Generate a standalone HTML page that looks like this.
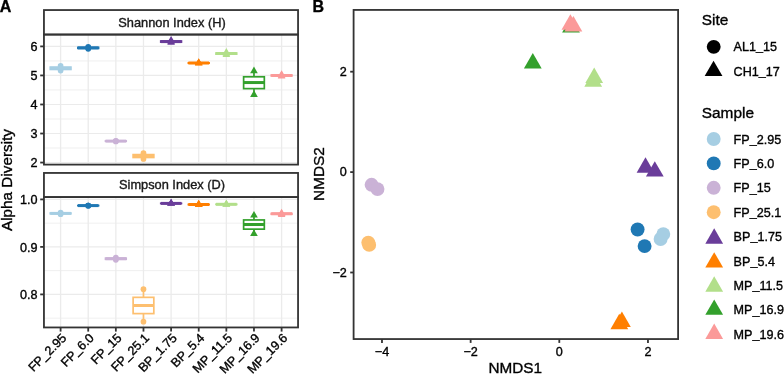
<!DOCTYPE html>
<html><head><meta charset="utf-8"><style>
html,body{margin:0;padding:0;background:#fff;}
body{width:784px;height:374px;overflow:hidden;}
svg{display:block;font-family:"Liberation Sans", sans-serif;will-change:transform;}
text{stroke:#000;stroke-width:0.35px;paint-order:stroke;}
</style></head><body>
<svg width="784" height="374" viewBox="0 0 784 374">
<rect width="784" height="374" fill="#fff"/>
<line x1="43.95" x2="298.05" y1="60.92" y2="60.92" stroke="#ebebeb" stroke-width="0.8"/>
<line x1="43.95" x2="298.05" y1="89.96" y2="89.96" stroke="#ebebeb" stroke-width="0.8"/>
<line x1="43.95" x2="298.05" y1="119" y2="119" stroke="#ebebeb" stroke-width="0.8"/>
<line x1="43.95" x2="298.05" y1="148.04" y2="148.04" stroke="#ebebeb" stroke-width="0.8"/>
<line x1="43.95" x2="298.05" y1="46.4" y2="46.4" stroke="#ebebeb" stroke-width="1.2"/>
<line x1="43.95" x2="298.05" y1="75.44" y2="75.44" stroke="#ebebeb" stroke-width="1.2"/>
<line x1="43.95" x2="298.05" y1="104.48" y2="104.48" stroke="#ebebeb" stroke-width="1.2"/>
<line x1="43.95" x2="298.05" y1="133.52" y2="133.52" stroke="#ebebeb" stroke-width="1.2"/>
<line x1="43.95" x2="298.05" y1="162.56" y2="162.56" stroke="#ebebeb" stroke-width="1.2"/>
<line x1="60.6" x2="60.6" y1="34.55" y2="164.6" stroke="#ebebeb" stroke-width="1.3"/>
<line x1="88.22" x2="88.22" y1="34.55" y2="164.6" stroke="#ebebeb" stroke-width="1.3"/>
<line x1="115.85" x2="115.85" y1="34.55" y2="164.6" stroke="#ebebeb" stroke-width="1.3"/>
<line x1="143.47" x2="143.47" y1="34.55" y2="164.6" stroke="#ebebeb" stroke-width="1.3"/>
<line x1="171.1" x2="171.1" y1="34.55" y2="164.6" stroke="#ebebeb" stroke-width="1.3"/>
<line x1="198.72" x2="198.72" y1="34.55" y2="164.6" stroke="#ebebeb" stroke-width="1.3"/>
<line x1="226.35" x2="226.35" y1="34.55" y2="164.6" stroke="#ebebeb" stroke-width="1.3"/>
<line x1="253.97" x2="253.97" y1="34.55" y2="164.6" stroke="#ebebeb" stroke-width="1.3"/>
<line x1="281.6" x2="281.6" y1="34.55" y2="164.6" stroke="#ebebeb" stroke-width="1.3"/>
<line x1="43.95" x2="298.05" y1="223.15" y2="223.15" stroke="#ebebeb" stroke-width="0.8"/>
<line x1="43.95" x2="298.05" y1="270.65" y2="270.65" stroke="#ebebeb" stroke-width="0.8"/>
<line x1="43.95" x2="298.05" y1="318.15" y2="318.15" stroke="#ebebeb" stroke-width="0.8"/>
<line x1="43.95" x2="298.05" y1="199.4" y2="199.4" stroke="#ebebeb" stroke-width="1.2"/>
<line x1="43.95" x2="298.05" y1="246.9" y2="246.9" stroke="#ebebeb" stroke-width="1.2"/>
<line x1="43.95" x2="298.05" y1="294.4" y2="294.4" stroke="#ebebeb" stroke-width="1.2"/>
<line x1="60.6" x2="60.6" y1="197.1" y2="327.45" stroke="#ebebeb" stroke-width="1.3"/>
<line x1="88.22" x2="88.22" y1="197.1" y2="327.45" stroke="#ebebeb" stroke-width="1.3"/>
<line x1="115.85" x2="115.85" y1="197.1" y2="327.45" stroke="#ebebeb" stroke-width="1.3"/>
<line x1="143.47" x2="143.47" y1="197.1" y2="327.45" stroke="#ebebeb" stroke-width="1.3"/>
<line x1="171.1" x2="171.1" y1="197.1" y2="327.45" stroke="#ebebeb" stroke-width="1.3"/>
<line x1="198.72" x2="198.72" y1="197.1" y2="327.45" stroke="#ebebeb" stroke-width="1.3"/>
<line x1="226.35" x2="226.35" y1="197.1" y2="327.45" stroke="#ebebeb" stroke-width="1.3"/>
<line x1="253.97" x2="253.97" y1="197.1" y2="327.45" stroke="#ebebeb" stroke-width="1.3"/>
<line x1="281.6" x2="281.6" y1="197.1" y2="327.45" stroke="#ebebeb" stroke-width="1.3"/>
<circle cx="60.6" cy="65.9" r="2.85" fill="#A6CEE3"/>
<circle cx="60.6" cy="68.3" r="2.85" fill="#A6CEE3"/>
<circle cx="60.6" cy="70.6" r="2.85" fill="#A6CEE3"/>
<line x1="60.6" x2="60.6" y1="65.9" y2="67.1" stroke="#A6CEE3" stroke-width="1.7"/>
<line x1="60.6" x2="60.6" y1="69.45" y2="70.6" stroke="#A6CEE3" stroke-width="1.7"/>
<rect x="50.25" y="67.1" width="20.7" height="2.35" fill="#fff" stroke="#A6CEE3" stroke-width="1.7"/>
<line x1="50.25" x2="70.95" y1="68.3" y2="68.3" stroke="#A6CEE3" stroke-width="3.0"/>
<circle cx="88.22" cy="46.9" r="2.85" fill="#1F78B4"/>
<circle cx="88.22" cy="47.9" r="2.85" fill="#1F78B4"/>
<circle cx="88.22" cy="48.8" r="2.85" fill="#1F78B4"/>
<line x1="88.22" x2="88.22" y1="46.9" y2="47.4" stroke="#1F78B4" stroke-width="1.7"/>
<line x1="88.22" x2="88.22" y1="48.35" y2="48.8" stroke="#1F78B4" stroke-width="1.7"/>
<rect x="77.88" y="47.4" width="20.7" height="0.95" fill="#fff" stroke="#1F78B4" stroke-width="1.7"/>
<line x1="77.88" x2="98.57" y1="47.9" y2="47.9" stroke="#1F78B4" stroke-width="3.0"/>
<circle cx="115.85" cy="140.8" r="2.85" fill="#CAB2D6"/>
<circle cx="115.85" cy="141.1" r="2.85" fill="#CAB2D6"/>
<circle cx="115.85" cy="141.4" r="2.85" fill="#CAB2D6"/>
<rect x="105.5" y="140.95" width="20.7" height="0.3" fill="#fff" stroke="#CAB2D6" stroke-width="1.7"/>
<line x1="105.5" x2="126.2" y1="141.1" y2="141.1" stroke="#CAB2D6" stroke-width="3.0"/>
<circle cx="143.47" cy="153.2" r="2.85" fill="#FDBF6F"/>
<circle cx="143.47" cy="156" r="2.85" fill="#FDBF6F"/>
<circle cx="143.47" cy="159" r="2.85" fill="#FDBF6F"/>
<line x1="143.47" x2="143.47" y1="153.2" y2="154.6" stroke="#FDBF6F" stroke-width="1.7"/>
<line x1="143.47" x2="143.47" y1="157.5" y2="159" stroke="#FDBF6F" stroke-width="1.7"/>
<rect x="133.12" y="154.6" width="20.7" height="2.9" fill="#fff" stroke="#FDBF6F" stroke-width="1.7"/>
<line x1="133.12" x2="153.82" y1="156" y2="156" stroke="#FDBF6F" stroke-width="3.0"/>
<polygon points="171.1,35.97 174.94,42.62 167.26,42.62" fill="#6A3D9A"/>
<polygon points="171.1,37.17 174.94,43.82 167.26,43.82" fill="#6A3D9A"/>
<polygon points="171.1,38.17 174.94,44.82 167.26,44.82" fill="#6A3D9A"/>
<line x1="171.1" x2="171.1" y1="40.4" y2="41" stroke="#6A3D9A" stroke-width="1.7"/>
<line x1="171.1" x2="171.1" y1="42.1" y2="42.6" stroke="#6A3D9A" stroke-width="1.7"/>
<rect x="160.75" y="41" width="20.7" height="1.1" fill="#fff" stroke="#6A3D9A" stroke-width="1.7"/>
<line x1="160.75" x2="181.45" y1="41.6" y2="41.6" stroke="#6A3D9A" stroke-width="3.0"/>
<polygon points="198.72,58.27 202.56,64.92 194.89,64.92" fill="#FF7F00"/>
<polygon points="198.72,58.57 202.56,65.22 194.89,65.22" fill="#FF7F00"/>
<polygon points="198.72,58.97 202.56,65.62 194.89,65.62" fill="#FF7F00"/>
<rect x="188.38" y="62.85" width="20.7" height="0.35" fill="#fff" stroke="#FF7F00" stroke-width="1.7"/>
<line x1="188.38" x2="209.07" y1="63" y2="63" stroke="#FF7F00" stroke-width="3.0"/>
<polygon points="226.35,48.07 230.19,54.72 222.51,54.72" fill="#B2DF8A"/>
<polygon points="226.35,49.07 230.19,55.72 222.51,55.72" fill="#B2DF8A"/>
<polygon points="226.35,50.37 230.19,57.02 222.51,57.02" fill="#B2DF8A"/>
<line x1="226.35" x2="226.35" y1="52.5" y2="53" stroke="#B2DF8A" stroke-width="1.7"/>
<line x1="226.35" x2="226.35" y1="54.15" y2="54.8" stroke="#B2DF8A" stroke-width="1.7"/>
<rect x="216" y="53" width="20.7" height="1.15" fill="#fff" stroke="#B2DF8A" stroke-width="1.7"/>
<line x1="216" x2="236.7" y1="53.5" y2="53.5" stroke="#B2DF8A" stroke-width="3.0"/>
<polygon points="253.97,66.57 257.81,73.22 250.14,73.22" fill="#33A02C"/>
<polygon points="253.97,78.12 257.81,84.77 250.14,84.77" fill="#33A02C"/>
<polygon points="253.97,90.27 257.81,96.92 250.14,96.92" fill="#33A02C"/>
<line x1="253.97" x2="253.97" y1="71" y2="76.78" stroke="#33A02C" stroke-width="1.7"/>
<line x1="253.97" x2="253.97" y1="88.62" y2="94.7" stroke="#33A02C" stroke-width="1.7"/>
<rect x="243.62" y="76.78" width="20.7" height="11.85" fill="#fff" stroke="#33A02C" stroke-width="1.7"/>
<line x1="243.62" x2="264.32" y1="82.55" y2="82.55" stroke="#33A02C" stroke-width="3.0"/>
<polygon points="281.6,70.17 285.44,76.82 277.76,76.82" fill="#FB9A99"/>
<polygon points="281.6,71.07 285.44,77.72 277.76,77.72" fill="#FB9A99"/>
<polygon points="281.6,71.87 285.44,78.52 277.76,78.52" fill="#FB9A99"/>
<line x1="281.6" x2="281.6" y1="74.6" y2="75.05" stroke="#FB9A99" stroke-width="1.7"/>
<line x1="281.6" x2="281.6" y1="75.9" y2="76.3" stroke="#FB9A99" stroke-width="1.7"/>
<rect x="271.25" y="75.05" width="20.7" height="0.85" fill="#fff" stroke="#FB9A99" stroke-width="1.7"/>
<line x1="271.25" x2="291.95" y1="75.5" y2="75.5" stroke="#FB9A99" stroke-width="3.0"/>
<circle cx="60.6" cy="212.65" r="2.85" fill="#A6CEE3"/>
<circle cx="60.6" cy="213.4" r="2.85" fill="#A6CEE3"/>
<circle cx="60.6" cy="214.15" r="2.85" fill="#A6CEE3"/>
<line x1="60.6" x2="60.6" y1="212.65" y2="213.03" stroke="#A6CEE3" stroke-width="1.7"/>
<line x1="60.6" x2="60.6" y1="213.78" y2="214.15" stroke="#A6CEE3" stroke-width="1.7"/>
<rect x="50.25" y="213.03" width="20.7" height="0.75" fill="#fff" stroke="#A6CEE3" stroke-width="1.7"/>
<line x1="50.25" x2="70.95" y1="213.4" y2="213.4" stroke="#A6CEE3" stroke-width="3.0"/>
<circle cx="88.22" cy="205.5" r="2.85" fill="#1F78B4"/>
<circle cx="88.22" cy="205.6" r="2.85" fill="#1F78B4"/>
<circle cx="88.22" cy="205.7" r="2.85" fill="#1F78B4"/>
<rect x="77.88" y="205.55" width="20.7" height="0.1" fill="#fff" stroke="#1F78B4" stroke-width="1.7"/>
<line x1="77.88" x2="98.57" y1="205.6" y2="205.6" stroke="#1F78B4" stroke-width="3.0"/>
<circle cx="115.85" cy="257.65" r="2.85" fill="#CAB2D6"/>
<circle cx="115.85" cy="258.7" r="2.85" fill="#CAB2D6"/>
<circle cx="115.85" cy="259.85" r="2.85" fill="#CAB2D6"/>
<line x1="115.85" x2="115.85" y1="257.65" y2="258.17" stroke="#CAB2D6" stroke-width="1.7"/>
<line x1="115.85" x2="115.85" y1="259.27" y2="259.85" stroke="#CAB2D6" stroke-width="1.7"/>
<rect x="105.5" y="258.17" width="20.7" height="1.1" fill="#fff" stroke="#CAB2D6" stroke-width="1.7"/>
<line x1="105.5" x2="126.2" y1="258.7" y2="258.7" stroke="#CAB2D6" stroke-width="3.0"/>
<circle cx="143.47" cy="289.2" r="2.85" fill="#FDBF6F"/>
<circle cx="143.47" cy="305.5" r="2.85" fill="#FDBF6F"/>
<circle cx="143.47" cy="321.7" r="2.85" fill="#FDBF6F"/>
<line x1="143.47" x2="143.47" y1="289.2" y2="297.35" stroke="#FDBF6F" stroke-width="1.7"/>
<line x1="143.47" x2="143.47" y1="313.6" y2="321.7" stroke="#FDBF6F" stroke-width="1.7"/>
<rect x="133.12" y="297.35" width="20.7" height="16.25" fill="#fff" stroke="#FDBF6F" stroke-width="1.7"/>
<line x1="133.12" x2="153.82" y1="305.5" y2="305.5" stroke="#FDBF6F" stroke-width="3.0"/>
<polygon points="171.1,198.87 174.94,205.52 167.26,205.52" fill="#6A3D9A"/>
<polygon points="171.1,198.97 174.94,205.62 167.26,205.62" fill="#6A3D9A"/>
<polygon points="171.1,199.07 174.94,205.72 167.26,205.72" fill="#6A3D9A"/>
<rect x="160.75" y="203.35" width="20.7" height="0.1" fill="#fff" stroke="#6A3D9A" stroke-width="1.7"/>
<line x1="160.75" x2="181.45" y1="203.4" y2="203.4" stroke="#6A3D9A" stroke-width="3.0"/>
<polygon points="198.72,199.87 202.56,206.52 194.89,206.52" fill="#FF7F00"/>
<polygon points="198.72,200.07 202.56,206.72 194.89,206.72" fill="#FF7F00"/>
<polygon points="198.72,200.37 202.56,207.02 194.89,207.02" fill="#FF7F00"/>
<rect x="188.38" y="204.4" width="20.7" height="0.25" fill="#fff" stroke="#FF7F00" stroke-width="1.7"/>
<line x1="188.38" x2="209.07" y1="204.5" y2="204.5" stroke="#FF7F00" stroke-width="3.0"/>
<polygon points="226.35,199.77 230.19,206.42 222.51,206.42" fill="#B2DF8A"/>
<polygon points="226.35,199.87 230.19,206.52 222.51,206.52" fill="#B2DF8A"/>
<polygon points="226.35,200.17 230.19,206.82 222.51,206.82" fill="#B2DF8A"/>
<rect x="216" y="204.25" width="20.7" height="0.2" fill="#fff" stroke="#B2DF8A" stroke-width="1.7"/>
<line x1="216" x2="236.7" y1="204.3" y2="204.3" stroke="#B2DF8A" stroke-width="3.0"/>
<polygon points="253.97,210.97 257.81,217.62 250.14,217.62" fill="#33A02C"/>
<polygon points="253.97,220.07 257.81,226.72 250.14,226.72" fill="#33A02C"/>
<polygon points="253.97,229.37 257.81,236.02 250.14,236.02" fill="#33A02C"/>
<line x1="253.97" x2="253.97" y1="215.4" y2="219.95" stroke="#33A02C" stroke-width="1.7"/>
<line x1="253.97" x2="253.97" y1="229.15" y2="233.8" stroke="#33A02C" stroke-width="1.7"/>
<rect x="243.62" y="219.95" width="20.7" height="9.2" fill="#fff" stroke="#33A02C" stroke-width="1.7"/>
<line x1="243.62" x2="264.32" y1="224.5" y2="224.5" stroke="#33A02C" stroke-width="3.0"/>
<polygon points="281.6,208.77 285.44,215.42 277.76,215.42" fill="#FB9A99"/>
<polygon points="281.6,209.27 285.44,215.92 277.76,215.92" fill="#FB9A99"/>
<polygon points="281.6,210.37 285.44,217.02 277.76,217.02" fill="#FB9A99"/>
<line x1="281.6" x2="281.6" y1="214.25" y2="214.8" stroke="#FB9A99" stroke-width="1.7"/>
<rect x="271.25" y="213.45" width="20.7" height="0.8" fill="#fff" stroke="#FB9A99" stroke-width="1.7"/>
<line x1="271.25" x2="291.95" y1="213.7" y2="213.7" stroke="#FB9A99" stroke-width="3.0"/>
<rect x="43.95" y="10.05" width="254.1" height="24.5" fill="none" stroke="#333333" stroke-width="1.8"/>
<rect x="43.95" y="34.55" width="254.1" height="130.05" fill="none" stroke="#333333" stroke-width="1.8"/>
<rect x="43.95" y="172.95" width="254.1" height="24.15" fill="none" stroke="#333333" stroke-width="1.8"/>
<rect x="43.95" y="197.1" width="254.1" height="130.35" fill="none" stroke="#333333" stroke-width="1.8"/>
<text x="172" y="27.4" font-size="12.8" text-anchor="middle" font-weight="normal" fill="#1a1a1a" >Shannon Index (H)</text>
<text x="172" y="189.4" font-size="12.8" text-anchor="middle" font-weight="normal" fill="#1a1a1a" >Simpson Index (D)</text>
<line x1="40.2" x2="43.95" y1="46.4" y2="46.4" stroke="#333333" stroke-width="1.8"/>
<text x="37.4" y="51.4" font-size="12.6" text-anchor="end" font-weight="normal" fill="#000" >6</text>
<line x1="40.2" x2="43.95" y1="75.44" y2="75.44" stroke="#333333" stroke-width="1.8"/>
<text x="37.4" y="80.2" font-size="12.6" text-anchor="end" font-weight="normal" fill="#000" >5</text>
<line x1="40.2" x2="43.95" y1="104.48" y2="104.48" stroke="#333333" stroke-width="1.8"/>
<text x="37.4" y="108.9" font-size="12.6" text-anchor="end" font-weight="normal" fill="#000" >4</text>
<line x1="40.2" x2="43.95" y1="133.52" y2="133.52" stroke="#333333" stroke-width="1.8"/>
<text x="37.4" y="138" font-size="12.6" text-anchor="end" font-weight="normal" fill="#000" >3</text>
<line x1="40.2" x2="43.95" y1="162.56" y2="162.56" stroke="#333333" stroke-width="1.8"/>
<text x="37.4" y="166.6" font-size="12.6" text-anchor="end" font-weight="normal" fill="#000" >2</text>
<line x1="40.2" x2="43.95" y1="199.4" y2="199.4" stroke="#333333" stroke-width="1.8"/>
<text x="37.4" y="203.7" font-size="12.6" text-anchor="end" font-weight="normal" fill="#000" >1.0</text>
<line x1="40.2" x2="43.95" y1="246.9" y2="246.9" stroke="#333333" stroke-width="1.8"/>
<text x="37.4" y="251.6" font-size="12.6" text-anchor="end" font-weight="normal" fill="#000" >0.9</text>
<line x1="40.2" x2="43.95" y1="294.4" y2="294.4" stroke="#333333" stroke-width="1.8"/>
<text x="37.4" y="298.9" font-size="12.6" text-anchor="end" font-weight="normal" fill="#000" >0.8</text>
<line x1="60.6" x2="60.6" y1="327.45" y2="331.6" stroke="#333333" stroke-width="1.8"/>
<text transform="translate(61,332.6) rotate(-45)" font-size="12.6" text-anchor="end" dy="8.6">FP<tspan dy="-0.8">_</tspan><tspan dy="0.8">2.95</tspan></text>
<line x1="88.22" x2="88.22" y1="327.45" y2="331.6" stroke="#333333" stroke-width="1.8"/>
<text transform="translate(88.62,332.6) rotate(-45)" font-size="12.6" text-anchor="end" dy="8.6">FP<tspan dy="-0.8">_</tspan><tspan dy="0.8">6.0</tspan></text>
<line x1="115.85" x2="115.85" y1="327.45" y2="331.6" stroke="#333333" stroke-width="1.8"/>
<text transform="translate(116.25,332.6) rotate(-45)" font-size="12.6" text-anchor="end" dy="8.6">FP<tspan dy="-0.8">_</tspan><tspan dy="0.8">15</tspan></text>
<line x1="143.47" x2="143.47" y1="327.45" y2="331.6" stroke="#333333" stroke-width="1.8"/>
<text transform="translate(143.88,332.6) rotate(-45)" font-size="12.6" text-anchor="end" dy="8.6">FP<tspan dy="-0.8">_</tspan><tspan dy="0.8">25.1</tspan></text>
<line x1="171.1" x2="171.1" y1="327.45" y2="331.6" stroke="#333333" stroke-width="1.8"/>
<text transform="translate(171.5,332.6) rotate(-45)" font-size="12.6" text-anchor="end" dy="8.6">BP<tspan dy="-0.8">_</tspan><tspan dy="0.8">1.75</tspan></text>
<line x1="198.72" x2="198.72" y1="327.45" y2="331.6" stroke="#333333" stroke-width="1.8"/>
<text transform="translate(199.12,332.6) rotate(-45)" font-size="12.6" text-anchor="end" dy="8.6">BP<tspan dy="-0.8">_</tspan><tspan dy="0.8">5.4</tspan></text>
<line x1="226.35" x2="226.35" y1="327.45" y2="331.6" stroke="#333333" stroke-width="1.8"/>
<text transform="translate(226.75,332.6) rotate(-45)" font-size="12.6" text-anchor="end" dy="8.6">MP<tspan dy="-0.8">_</tspan><tspan dy="0.8">11.5</tspan></text>
<line x1="253.97" x2="253.97" y1="327.45" y2="331.6" stroke="#333333" stroke-width="1.8"/>
<text transform="translate(254.38,332.6) rotate(-45)" font-size="12.6" text-anchor="end" dy="8.6">MP<tspan dy="-0.8">_</tspan><tspan dy="0.8">16.9</tspan></text>
<line x1="281.6" x2="281.6" y1="327.45" y2="331.6" stroke="#333333" stroke-width="1.8"/>
<text transform="translate(282,332.6) rotate(-45)" font-size="12.6" text-anchor="end" dy="8.6">MP<tspan dy="-0.8">_</tspan><tspan dy="0.8">19.6</tspan></text>
<text transform="translate(12.2,180.0) rotate(-90)" font-size="15.3" text-anchor="middle">Alpha Diversity</text>
<text x="-0.3" y="11.6" font-size="16" text-anchor="start" font-weight="bold" fill="#000" >A</text>
<text x="312.5" y="11.7" font-size="16" text-anchor="start" font-weight="bold" fill="#000" >B</text>
<polygon points="571,17.14 579.89,32.53 562.11,32.53" fill="#33A02C"/>
<polygon points="570.4,14.34 579.29,29.73 561.51,29.73" fill="#FB9A99"/>
<polygon points="573.4,16.04 582.29,31.43 564.51,31.43" fill="#FB9A99"/>
<polygon points="532.8,53.04 541.69,68.43 523.91,68.43" fill="#33A02C"/>
<polygon points="593.2,71.34 602.09,86.73 584.31,86.73" fill="#B2DF8A"/>
<polygon points="594.2,67.54 603.09,82.93 585.31,82.93" fill="#B2DF8A"/>
<circle cx="371.6" cy="184.8" r="6.95" fill="#CAB2D6"/>
<circle cx="377.5" cy="189.1" r="6.95" fill="#CAB2D6"/>
<circle cx="369.2" cy="244.9" r="6.95" fill="#FDBF6F"/>
<circle cx="368.3" cy="242.6" r="6.95" fill="#FDBF6F"/>
<polygon points="645.5,157.24 654.39,172.63 636.61,172.63" fill="#6A3D9A"/>
<polygon points="654.8,161.14 663.69,176.53 645.91,176.53" fill="#6A3D9A"/>
<circle cx="637.6" cy="229.5" r="6.95" fill="#1F78B4"/>
<circle cx="644.6" cy="246.1" r="6.95" fill="#1F78B4"/>
<circle cx="660.6" cy="239" r="6.95" fill="#A6CEE3"/>
<circle cx="663.3" cy="234.1" r="6.95" fill="#A6CEE3"/>
<polygon points="619.3,313.84 628.19,329.23 610.41,329.23" fill="#FF7F00"/>
<polygon points="621.9,311.54 630.79,326.93 613.01,326.93" fill="#FF7F00"/>
<rect x="353.6" y="9.93" width="324.5" height="329.12" fill="none" stroke="#333333" stroke-width="1.8"/>
<line x1="350.2" x2="353.6" y1="71.7" y2="71.7" stroke="#333333" stroke-width="1.8"/>
<text x="346.8" y="76" font-size="12.6" text-anchor="end" font-weight="normal" fill="#000" >2</text>
<line x1="350.2" x2="353.6" y1="172.1" y2="172.1" stroke="#333333" stroke-width="1.8"/>
<text x="346.8" y="176.4" font-size="12.6" text-anchor="end" font-weight="normal" fill="#000" >0</text>
<line x1="350.2" x2="353.6" y1="272.5" y2="272.5" stroke="#333333" stroke-width="1.8"/>
<text x="346.8" y="276.8" font-size="12.6" text-anchor="end" font-weight="normal" fill="#000" >−2</text>
<line x1="381.98" x2="381.98" y1="339.05" y2="342.9" stroke="#333333" stroke-width="1.8"/>
<text x="381.98" y="355.7" font-size="12.6" text-anchor="middle" font-weight="normal" fill="#000" >−4</text>
<line x1="470.64" x2="470.64" y1="339.05" y2="342.9" stroke="#333333" stroke-width="1.8"/>
<text x="470.64" y="355.7" font-size="12.6" text-anchor="middle" font-weight="normal" fill="#000" >−2</text>
<line x1="559.3" x2="559.3" y1="339.05" y2="342.9" stroke="#333333" stroke-width="1.8"/>
<text x="559.3" y="355.7" font-size="12.6" text-anchor="middle" font-weight="normal" fill="#000" >0</text>
<line x1="647.96" x2="647.96" y1="339.05" y2="342.9" stroke="#333333" stroke-width="1.8"/>
<text x="647.96" y="355.7" font-size="12.6" text-anchor="middle" font-weight="normal" fill="#000" >2</text>
<text x="515.15" y="372.8" font-size="15.3" text-anchor="middle" font-weight="normal" fill="#000" >NMDS1</text>
<text transform="translate(323.8,174.05) rotate(-90)" font-size="15.4" text-anchor="middle">NMDS2</text>
<text x="701.8" y="25.2" font-size="15.4" text-anchor="start" font-weight="normal" fill="#000" >Site</text>
<circle cx="713.7" cy="46.85" r="6.95" fill="#000"/>
<text x="733.6" y="51.2" font-size="12.6">AL1<tspan dy="-0.8">_</tspan><tspan dy="0.8">15</tspan></text>
<polygon points="713.55,60.71 722.44,76.1 704.66,76.1" fill="#000"/>
<text x="733.6" y="75.5" font-size="12.6">CH1<tspan dy="-0.8">_</tspan><tspan dy="0.8">17</tspan></text>
<text x="701.8" y="117.5" font-size="15.4" text-anchor="start" font-weight="normal" fill="#000" >Sample</text>
<circle cx="713.7" cy="139" r="6.95" fill="#A6CEE3"/>
<text x="733.6" y="143.5" font-size="12.6">FP<tspan dy="-0.8">_</tspan><tspan dy="0.8">2.95</tspan></text>
<circle cx="713.7" cy="163.4" r="6.95" fill="#1F78B4"/>
<text x="733.6" y="167.9" font-size="12.6">FP<tspan dy="-0.8">_</tspan><tspan dy="0.8">6.0</tspan></text>
<circle cx="713.7" cy="187.8" r="6.95" fill="#CAB2D6"/>
<text x="733.6" y="192.3" font-size="12.6">FP<tspan dy="-0.8">_</tspan><tspan dy="0.8">15</tspan></text>
<circle cx="713.7" cy="212.2" r="6.95" fill="#FDBF6F"/>
<text x="733.6" y="216.7" font-size="12.6">FP<tspan dy="-0.8">_</tspan><tspan dy="0.8">25.1</tspan></text>
<polygon points="714.2,228.34 723.09,243.73 705.31,243.73" fill="#6A3D9A"/>
<text x="733.6" y="241.1" font-size="12.6">BP<tspan dy="-0.8">_</tspan><tspan dy="0.8">1.75</tspan></text>
<polygon points="714.2,252.14 723.09,267.53 705.31,267.53" fill="#FF7F00"/>
<text x="733.6" y="265.5" font-size="12.6">BP<tspan dy="-0.8">_</tspan><tspan dy="0.8">5.4</tspan></text>
<polygon points="714.2,276.24 723.09,291.63 705.31,291.63" fill="#B2DF8A"/>
<text x="733.6" y="289.9" font-size="12.6">MP<tspan dy="-0.8">_</tspan><tspan dy="0.8">11.5</tspan></text>
<polygon points="714.2,299.44 723.09,314.83 705.31,314.83" fill="#33A02C"/>
<text x="733.6" y="314.3" font-size="12.6">MP<tspan dy="-0.8">_</tspan><tspan dy="0.8">16.9</tspan></text>
<polygon points="714.2,323.54 723.09,338.93 705.31,338.93" fill="#FB9A99"/>
<text x="733.6" y="338.7" font-size="12.6">MP<tspan dy="-0.8">_</tspan><tspan dy="0.8">19.6</tspan></text>
</svg>
</body></html>
